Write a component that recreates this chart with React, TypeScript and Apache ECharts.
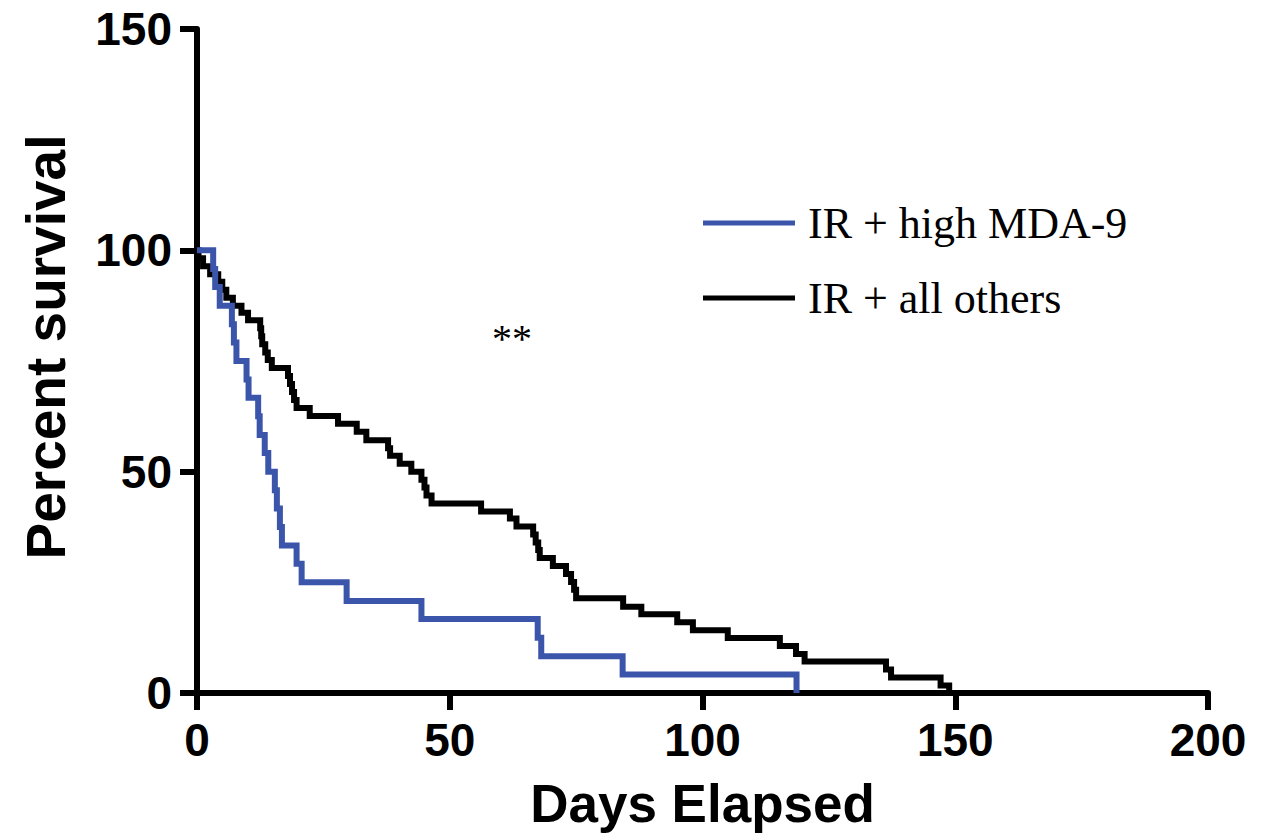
import React, { useEffect, useRef } from "react";
import * as echarts from "echarts";

const seriesNames = ["IR + high MDA-9", "IR + all others"];

// Kaplan-Meier steps: [day, percent surviving after the event]
const highMDA9: [number, number][] = [
  [0, 100], [3.2, 95.8], [3.6, 91.7], [4.5, 87.5], [6.9, 83.3], [7.3, 79.2],
  [7.8, 75.0], [9.8, 70.8], [10.2, 66.7], [12.1, 62.5], [12.4, 58.3], [13.4, 54.2],
  [14.1, 50.0], [15.4, 45.8], [15.8, 41.7], [16.4, 37.5], [16.8, 33.3], [19.7, 29.2],
  [20.7, 25.0], [29.6, 20.8], [44.4, 16.7], [67.4, 12.5], [68.1, 8.3], [84.2, 4.2],
  [118.6, 0],
];

const allOthers: [number, number][] = [
  [0, 100], [0.3, 98.2], [1.2, 96.4], [2.6, 94.6], [4.2, 92.9], [5.0, 91.1],
  [5.8, 89.3], [7.1, 87.5], [8.8, 85.9], [10.1, 84.2], [12.5, 82.4], [12.7, 80.6],
  [12.9, 78.8], [13.5, 76.9], [14.0, 75.2], [14.8, 73.4], [18.0, 71.6], [18.4, 69.8],
  [18.8, 68.0], [19.2, 66.2], [19.7, 64.4], [22.3, 62.6], [27.9, 60.8], [31.6, 59.0],
  [33.5, 57.1], [37.8, 55.3], [38.2, 53.6], [40.1, 51.8], [42.4, 50.0], [44.4, 48.2],
  [45.0, 46.4], [45.4, 44.6], [46.4, 42.8], [56.2, 41.0], [61.9, 39.4], [63.2, 37.6],
  [66.5, 35.8], [67.0, 34.0], [67.5, 32.3], [67.8, 30.5], [70.4, 28.7], [73.0, 26.9],
  [74.0, 25.1], [74.6, 23.3], [75.0, 21.4], [84.3, 19.5], [87.9, 17.8], [95.0, 16.0],
  [98.1, 14.2], [105.0, 12.4], [115.3, 10.6], [118.5, 8.8], [120.2, 7.1], [136.3, 5.3],
  [137.3, 3.5], [147.1, 1.7], [148.8, 0],
];

const xTicks = [0, 50, 100, 150, 200];
const yTicks = [0, 50, 100, 150];
const significance = "**";

const sans = "'Liberation Sans', Arial, sans-serif";
const serif = "'Liberation Serif', 'Times New Roman', serif";

export default function App() {
  const ref = useRef<HTMLDivElement>(null);
  useEffect(() => {
    if (!ref.current) return;
    const chart = echarts.init(ref.current, null, { renderer: "svg" });
    const axisCommon = {
      axisLine: { show: true, lineStyle: { color: "#000", width: 6 } },
      axisTick: { show: true, length: 17, lineStyle: { color: "#000", width: 6 } },
      splitLine: { show: false },
      nameLocation: "middle" as const,
    };
    chart.setOption({
      animation: false,
      backgroundColor: "#fff",
      grid: { left: 197, right: 53, top: 29, bottom: 144, containLabel: false, outerBoundsMode: "none" },
      xAxis: {
        type: "value",
        min: xTicks[0],
        max: xTicks[xTicks.length - 1],
        interval: 50,
        name: "Days Elapsed",
        nameGap: 84,
        ...axisCommon,
        nameTextStyle: { fontFamily: sans, fontWeight: "bold", fontSize: 53, color: "#000" },
        axisLabel: { fontFamily: sans, fontWeight: "bold", fontSize: 46, color: "#000", margin: 24 },
      },
      yAxis: {
        type: "value",
        min: yTicks[0],
        max: yTicks[yTicks.length - 1],
        interval: 50,
        name: "Percent survival",
        nameGap: 124,
        ...axisCommon,
        nameTextStyle: { fontFamily: sans, fontWeight: "bold", fontSize: 55, color: "#000", padding: [0, 0, 0, 28] },
        axisLabel: { fontFamily: sans, fontWeight: "bold", fontSize: 46, color: "#000", margin: 25 },
      },
      legend: {
        show: true,
        orient: "vertical",
        left: 698,
        top: 195,
        icon: "rect",
        itemWidth: 92,
        itemHeight: 5,
        itemGap: 29,
        textStyle: { fontFamily: serif, fontSize: 44, color: "#000", padding: [0, 0, 0, 8], lineHeight: 46 },
        data: seriesNames,
      },
      series: [
        {
          name: seriesNames[0],
          type: "line",
          step: "end",
          symbol: "none",
          data: highMDA9,
          color: "#3A55AA",
          lineStyle: { width: 6, color: "#3A55AA", join: "miter" },
          z: 3,
        },
        {
          name: seriesNames[1],
          type: "line",
          step: "end",
          symbol: "none",
          data: allOthers,
          color: "#000",
          lineStyle: { width: 6, color: "#000", join: "miter" },
          z: 2,
        },
      ],
      graphic: [
        {
          type: "text",
          left: 492,
          top: 318,
          style: { text: significance, fontFamily: serif, fontSize: 40, fill: "#000" },
        },
      ],
    });
    return () => chart.dispose();
  }, []);
  return <div ref={ref} style={{ position: "absolute", left: 0, top: 0, width: 1261, height: 837 }} />;
}
